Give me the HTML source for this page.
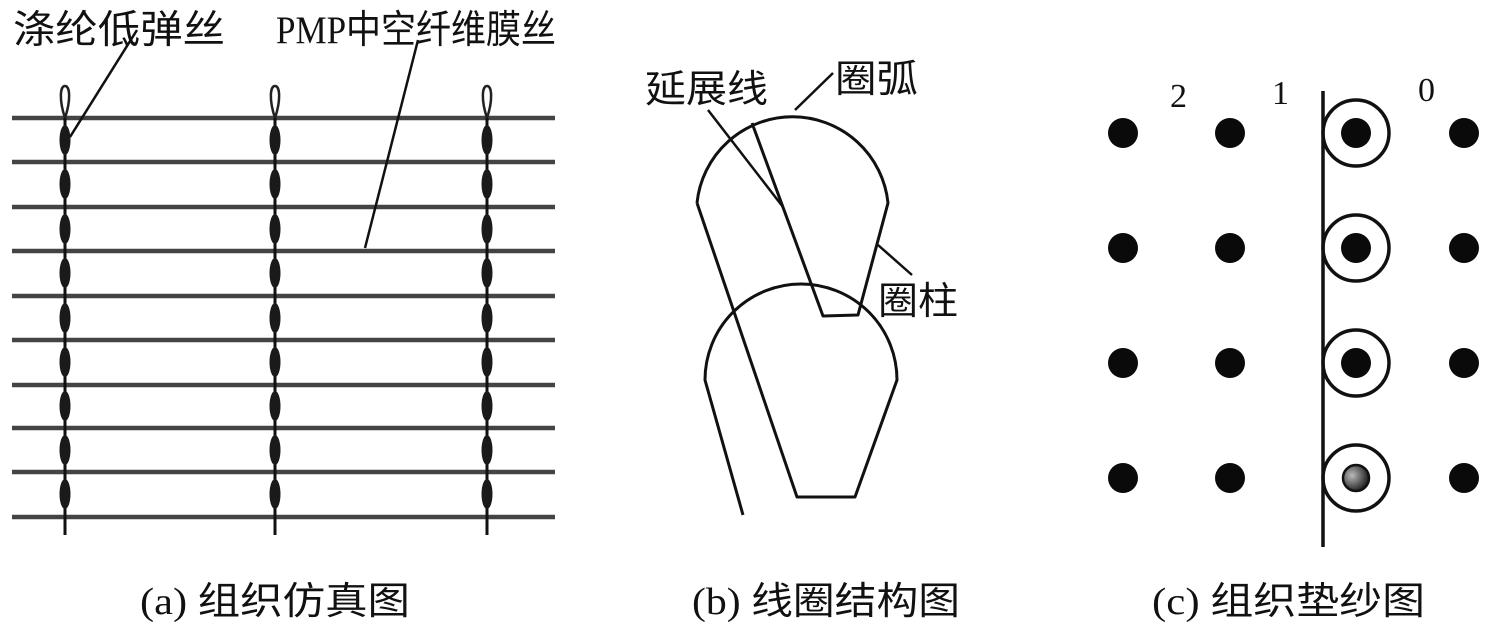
<!DOCTYPE html>
<html><head><meta charset="utf-8"><style>
html,body{margin:0;padding:0;background:#fff;}
svg{display:block;}
.cj{font-family:"Liberation Serif","Noto Sans CJK SC","Noto Serif CJK SC",serif;fill:#111;}
</style></head><body>
<svg width="1500" height="627" viewBox="0 0 1500 627" xmlns="http://www.w3.org/2000/svg">
<defs>
<radialGradient id="g" cx="0.35" cy="0.4" r="0.7"><stop offset="0" stop-color="#bbb"/><stop offset="0.6" stop-color="#555"/><stop offset="1" stop-color="#111"/></radialGradient>
<g id="chain">
 <path d="M0,118 C-6,100 -5,86 0,86 C5,86 6,100 0,118" fill="none" stroke="#222" stroke-width="2.5"/>
 <line x1="0" y1="118" x2="0" y2="535" stroke="#111" stroke-width="3"/>
 <g fill="#1a1a1a">
  <ellipse cx="0" cy="140" rx="5.5" ry="15"/><ellipse cx="0" cy="184" rx="5.5" ry="15"/>
  <ellipse cx="0" cy="229" rx="5.5" ry="15"/><ellipse cx="0" cy="273" rx="5.5" ry="15"/>
  <ellipse cx="0" cy="318" rx="5.5" ry="15"/><ellipse cx="0" cy="362" rx="5.5" ry="15"/>
  <ellipse cx="0" cy="406" rx="5.5" ry="15"/><ellipse cx="0" cy="450" rx="5.5" ry="15"/>
  <ellipse cx="0" cy="494" rx="5.5" ry="15"/>
 </g>
</g>
</defs>
<!-- panel a -->
<g stroke="#444" stroke-width="4.5">
 <line x1="12" y1="118" x2="555" y2="118"/><line x1="12" y1="162" x2="555" y2="162"/>
 <line x1="12" y1="207" x2="555" y2="207"/><line x1="12" y1="251" x2="555" y2="251"/>
 <line x1="12" y1="296" x2="555" y2="296"/><line x1="12" y1="340" x2="555" y2="340"/>
 <line x1="12" y1="385" x2="555" y2="385"/><line x1="12" y1="428" x2="555" y2="428"/>
 <line x1="12" y1="472" x2="555" y2="472"/><line x1="12" y1="517" x2="555" y2="517"/>
</g>
<use href="#chain" x="65"/><use href="#chain" x="275"/><use href="#chain" x="487"/>
<line x1="137" y1="30" x2="70" y2="137" stroke="#111" stroke-width="2.5"/>
<line x1="418" y1="40" x2="365" y2="248" stroke="#111" stroke-width="2.5"/>
<text class="cj" x="13" y="43" font-size="39" textLength="212" lengthAdjust="spacingAndGlyphs">涤纶低弹丝</text>
<text class="cj" x="276" y="43" font-size="39" textLength="280" lengthAdjust="spacingAndGlyphs">PMP中空纤维膜丝</text>
<text class="cj" x="140" y="614" font-size="38" textLength="270" lengthAdjust="spacingAndGlyphs">(a) 组织仿真图</text>
<!-- panel b -->
<g fill="none" stroke="#111" stroke-width="3" stroke-linejoin="round">
 <path d="M697,203 A96,96 0 0 1 888,203 L858,315 L823,316 L752,123"/>
 <path d="M697,203 L797,497 L855,497 L897,380 A96,96 0 0 0 705,380 L743,515"/>
 <line x1="708" y1="110" x2="783" y2="207" stroke-width="2.5"/>
 <line x1="795" y1="110" x2="833" y2="73" stroke-width="2.5"/>
 <line x1="878" y1="245" x2="912" y2="275" stroke-width="2.5"/>
</g>
<text class="cj" x="645" y="102" font-size="38" textLength="123" lengthAdjust="spacingAndGlyphs">延展线</text>
<text class="cj" x="835" y="92" font-size="38" textLength="83" lengthAdjust="spacingAndGlyphs">圈弧</text>
<text class="cj" x="878" y="314" font-size="38" textLength="80" lengthAdjust="spacingAndGlyphs">圈柱</text>
<text class="cj" x="692" y="614" font-size="38" textLength="268" lengthAdjust="spacingAndGlyphs">(b) 线圈结构图</text>
<!-- panel c -->
<line x1="1323" y1="91" x2="1323" y2="547" stroke="#111" stroke-width="3.5"/>
<g fill="none" stroke="#111" stroke-width="3.5">
 <circle cx="1356" cy="133" r="33"/><circle cx="1356" cy="248" r="33"/>
 <circle cx="1356" cy="363" r="33"/><circle cx="1356" cy="478" r="33"/>
</g>
<g fill="#0a0a0a">
 <circle cx="1123" cy="133" r="15"/><circle cx="1230" cy="133" r="15"/><circle cx="1356" cy="133" r="15"/><circle cx="1464" cy="133" r="15"/>
 <circle cx="1123" cy="248" r="15"/><circle cx="1230" cy="248" r="15"/><circle cx="1356" cy="248" r="15"/><circle cx="1464" cy="248" r="15"/>
 <circle cx="1123" cy="363" r="15"/><circle cx="1230" cy="363" r="15"/><circle cx="1356" cy="363" r="15"/><circle cx="1464" cy="363" r="15"/>
 <circle cx="1123" cy="478" r="15"/><circle cx="1230" cy="478" r="15"/><circle cx="1464" cy="478" r="15"/>
</g>
<circle cx="1356" cy="478" r="13" fill="url(#g)" stroke="#111" stroke-width="2.5"/>
<text class="cj" x="1170" y="107" font-size="34">2</text>
<text class="cj" x="1272" y="104" font-size="34">1</text>
<text class="cj" x="1418" y="101" font-size="34">0</text>
<text class="cj" x="1152" y="614" font-size="38" textLength="273" lengthAdjust="spacingAndGlyphs">(c) 组织垫纱图</text>
</svg>
</body></html>
